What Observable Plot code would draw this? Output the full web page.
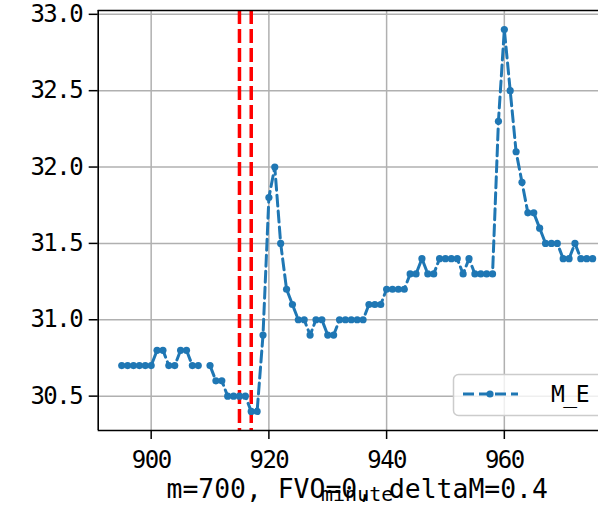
<!DOCTYPE html>
<html>
<head>
<meta charset="utf-8">
<script src="https://cdn.jsdelivr.net/npm/d3@7"></script>
<script src="https://cdn.jsdelivr.net/npm/@observablehq/plot@0.6"></script>
<style>
  html, body { margin: 0; padding: 0; background: white; }
  #chart { width: 598px; height: 507px; overflow: hidden; }
</style>
</head>
<body>
<div id="chart"></div>
<script>
// ---- data ----
const minutes = d3.range(895, 976);
const values = [
  30.7, 30.7, 30.7, 30.7, 30.7, 30.7, // 895-900
  30.8, 30.8, 30.7, 30.7, 30.8, 30.8, // 901-906
  30.7, 30.7, NaN, 30.7, 30.6, 30.6,  // 907-912
  30.5, 30.5, 30.5, 30.5, 30.4, 30.4, // 913-918
  30.9, 31.8, 32.0, 31.5, 31.2, 31.1, // 919-924
  31.0, 31.0, 30.9, 31.0, 31.0, 30.9, // 925-930
  30.9, 31.0, 31.0, 31.0, 31.0, 31.0, // 931-936
  31.1, 31.1, 31.1, 31.2, 31.2, 31.2, // 937-942
  31.2, 31.3, 31.3, 31.4, 31.3, 31.3, // 943-948
  31.4, 31.4, 31.4, 31.4, 31.3, 31.4, // 949-954
  31.3, 31.3, 31.3, 31.3, 32.3, 32.9, // 955-960
  32.5, 32.1, 31.9, 31.7, 31.7, 31.6, // 961-966
  31.5, 31.5, 31.5, 31.4, 31.4, 31.5, // 967-972
  31.4, 31.4, 31.4                    // 973-975
];
const eventLines = [915, 917];
const xTicks = [900, 920, 940, 960];
const yTicks = [30.5, 31.0, 31.5, 32.0, 32.5, 33.0];
const seriesName = "M_E";
const titleText = "m=700, FVO=0, deltaM=0.4";
const xLabel = "minute";

const data = minutes.map((m, i) => ({minute: m, value: values[i]}));

const xDomain = [891, 976];
const yDomain = [30.275, 33.025];
const blue = "#1f77b4";
const font = "DejaVu Sans Mono";

const chart = Plot.plot({
  width: 598,
  height: 507,
  marginLeft: 97.7,
  marginRight: 0,
  marginTop: 10,
  marginBottom: 77,
  style: {fontFamily: font, fontSize: "21.5px", color: "black", background: "white", overflow: "visible"},
  x: {domain: xDomain, label: null},
  y: {domain: yDomain, label: null},
  marks: [
    Plot.gridX(xTicks, {stroke: "#b0b0b0", strokeOpacity: 1, strokeWidth: 1.5}),
    Plot.gridY(yTicks, {stroke: "#b0b0b0", strokeOpacity: 1, strokeWidth: 1.5}),
    Plot.ruleX(eventLines, {stroke: "red", strokeWidth: 3.5, strokeDasharray: "14,5"}),
    Plot.line(data, {x: "minute", y: "value", stroke: blue, strokeWidth: 3, strokeDasharray: "11,5"}),
    Plot.dot(data.filter(d => !isNaN(d.value)), {x: "minute", y: "value", r: 3.6, fill: blue, stroke: null}),
    Plot.ruleX([xDomain[0]], {stroke: "black", strokeWidth: 1.6}),
    Plot.ruleY([yDomain[0]], {stroke: "black", strokeWidth: 1.6}),
    Plot.ruleY([yDomain[1]], {stroke: "black", strokeWidth: 1.6}),
    Plot.axisX(xTicks, {tickSize: 9, tickPadding: 11, strokeWidth: 1.5, fontSize: 24, label: null}),
    Plot.axisY(yTicks, {tickSize: 9, tickPadding: 7, strokeWidth: 1.5, fontSize: 24, tickFormat: d3.format(".1f"), label: null}),
    Plot.text([titleText], {frameAnchor: "bottom", dx: 8.8, dy: 67, lineAnchor: "bottom", fontSize: 26.4, fill: "black"}),
    Plot.text([xLabel], {frameAnchor: "bottom", dx: 8.8, dy: 70, lineAnchor: "bottom", fontSize: 20, fill: "black"})
  ]
});

document.getElementById("chart").appendChild(chart);

// tighten tick label glyph spacing to mimic the reference's narrow digits
d3.select(chart).selectAll('g[aria-label="x-axis tick label"] text, g[aria-label="y-axis tick label"] text')
  .style("letter-spacing", "-1.5px");

// ---- legend (drawn on top, lower right of the axes) ----
const svg = d3.select(chart);
const lg = svg.append("g").attr("font-family", font).attr("text-anchor", "start");
lg.append("rect")
  .attr("x", 453.5).attr("y", 374.5).attr("width", 170).attr("height", 41)
  .attr("rx", 5).attr("fill", "white").attr("fill-opacity", 0.8)
  .attr("stroke", "#cccccc").attr("stroke-width", 1.5);
lg.append("line")
  .attr("x1", 463).attr("x2", 518).attr("y1", 394).attr("y2", 394)
  .attr("stroke", blue).attr("stroke-width", 3).attr("stroke-dasharray", "11,5");
lg.append("circle").attr("cx", 490).attr("cy", 394).attr("r", 3.6).attr("fill", blue);
lg.append("text").attr("x", 551).attr("y", 402).attr("font-size", 23).attr("fill", "black")
  .style("letter-spacing", "-1.5px").text(seriesName);
</script>
</body>
</html>
